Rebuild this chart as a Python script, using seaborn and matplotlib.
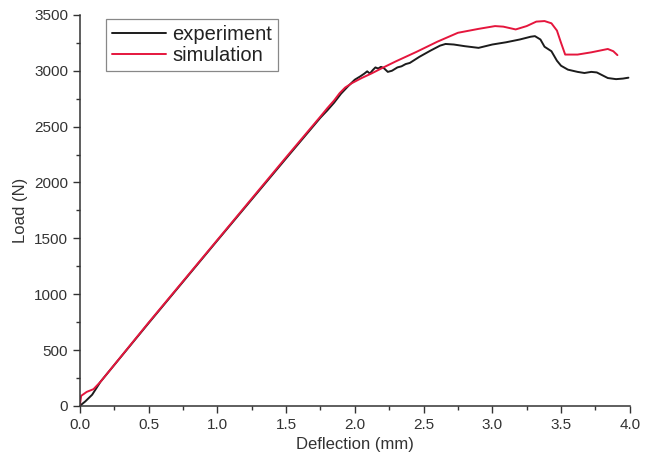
import matplotlib
matplotlib.use("Agg")
import matplotlib.pyplot as plt
from matplotlib.ticker import MultipleLocator
import seaborn as sns
import pandas as pd

# ── Data ──────────────────────────────────────────────────
exp_x = [0, 0.04, 0.09, 0.15, 0.5, 1.0, 1.5, 1.75, 1.80, 1.85, 1.90, 1.95,
         2.00, 2.04, 2.07, 2.09, 2.11, 2.13, 2.15, 2.17, 2.19, 2.21, 2.24,
         2.27, 2.31, 2.34, 2.37, 2.40, 2.47, 2.55, 2.62, 2.66, 2.72, 2.80,
         2.90, 3.00, 3.10, 3.20, 3.28, 3.31, 3.35, 3.38, 3.43, 3.47, 3.50,
         3.55, 3.62, 3.67, 3.72, 3.76, 3.80, 3.84, 3.90, 3.95, 3.99]
exp_y = [0, 40, 100, 215, 740, 1480, 2215, 2580, 2645, 2715, 2795, 2860,
         2920, 2950, 2975, 2995, 2975, 3005, 3030, 3020, 3035, 3025, 2990,
         3000, 3030, 3040, 3060, 3070, 3125, 3180, 3225, 3240, 3235, 3220,
         3205, 3235, 3255, 3280, 3305, 3310, 3280, 3215, 3175, 3090, 3045,
         3010, 2990, 2980, 2990, 2985, 2960, 2935, 2925, 2930, 2938]

sim_x = [0, 0.01, 0.05, 0.10, 0.15, 0.5, 1.0, 1.5, 1.75, 1.80, 1.85, 1.89,
         1.93, 1.98, 2.05, 2.12, 2.2, 2.3, 2.45, 2.6, 2.75, 2.9, 3.02, 3.08,
         3.17, 3.25, 3.32, 3.38, 3.43, 3.47, 3.50, 3.53, 3.62, 3.72, 3.84,
         3.88, 3.91]
sim_y = [0, 90, 125, 150, 215, 745, 1485, 2225, 2590, 2665, 2735, 2800,
         2850, 2890, 2935, 2975, 3025, 3085, 3170, 3260, 3340, 3375, 3400,
         3395, 3370, 3400, 3440, 3445, 3425, 3360, 3250, 3145, 3145, 3165,
         3195, 3175, 3140]

df = pd.concat([
    pd.DataFrame({"x": exp_x, "y": exp_y, "series": "experiment"}),
    pd.DataFrame({"x": sim_x, "y": sim_y, "series": "simulation"}),
], ignore_index=True)

sns.set_style("ticks")
plt.rcParams["font.family"] = ["Liberation Sans", "DejaVu Sans"]

fig = plt.figure(figsize=(6.54, 4.66), dpi=100)
ax = fig.add_axes([0.122, 0.129, 0.841, 0.839])

sns.lineplot(data=df, x="x", y="y", hue="series", sort=False,
             palette={"experiment": "#1c1c1c", "simulation": "#e5163d"},
             linewidth=1.4, ax=ax)

ax.set_xlim(0, 4.0)
ax.set_ylim(0, 3500)
ax.xaxis.set_major_locator(MultipleLocator(0.5))
ax.xaxis.set_minor_locator(MultipleLocator(0.25))
ax.yaxis.set_major_locator(MultipleLocator(500))
ax.yaxis.set_minor_locator(MultipleLocator(250))
ax.tick_params(which="major", direction="out", length=5, width=1,
               labelsize=11, colors="#333333")
ax.tick_params(which="minor", direction="out", length=3, width=1,
               colors="#333333")
for s in ("top", "right"):
    ax.spines[s].set_visible(False)
for s in ("left", "bottom"):
    ax.spines[s].set_linewidth(1.1)
    ax.spines[s].set_color("#333333")

ax.set_xlabel("Deflection (mm)", fontsize=12, color="#333333")
ax.set_ylabel("Load (N)", fontsize=12, color="#333333")

leg = ax.legend(loc="upper left", bbox_to_anchor=(0.047, 0.99),
                borderaxespad=0, fontsize=14.5, handlelength=2.7,
                handletextpad=0.3, labelspacing=0.1, fancybox=False,
                framealpha=1, borderpad=0.3)
leg.get_frame().set_edgecolor("#888888")
leg.get_frame().set_linewidth(0.9)
for t in leg.get_texts():
    t.set_color("#222222")

plt.savefig("out.png", dpi=100)
plt.close()
